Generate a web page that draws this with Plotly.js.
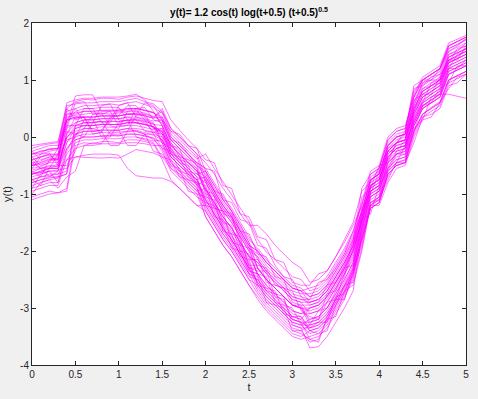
<!DOCTYPE html>
<html>
<head>
<meta charset="utf-8">
<script src="https://cdn.plot.ly/plotly-3.0.1.min.js"></script>
<style>
  html, body { margin: 0; padding: 0; background: #f0f0f0; }
  #myPlot { width: 478px; height: 399px; }
</style>
</head>
<body>
<div id="myPlot"></div>
<script>
// sample times, 0 .. 5 step 0.1
const tValues = [0,0.1,0.2,0.3,0.4,0.5,0.6,0.7,0.8,0.9,1,1.1,1.2,1.3,1.4,1.5,1.6,1.7,1.8,1.9,2,
  2.1,2.2,2.3,2.4,2.5,2.6,2.7,2.8,2.9,3,3.1,3.2,3.3,3.4,3.5,3.6,3.7,3.8,3.9,4,
  4.1,4.2,4.3,4.4,4.5,4.6,4.7,4.8,4.9,5];

// realisations
const run01 = [-0.35,-0.30,-0.25,-0.22, 0.30,0.50,0.55,0.55,0.57,0.58,0.56,0.60,0.62,0.57,0.52, 0.42,0.05,-0.10,-0.25,-0.38, -0.30,-0.55,-0.78,-1.00,-1.25,-1.48, -1.80,-2.02,-2.15,-2.30,-2.45,-2.50, -2.70,-2.65,-2.50,-2.25,-2.00,-1.70, -1.30,-0.75,-0.65,-0.15,0.00,0.05, 0.62,0.95,1.05,1.15,1.55,1.62,1.70];
const run02 = [-1.05,-1.00,-0.95,-0.98, -0.95,-0.15,-0.10,-0.12,-0.08,-0.08,-0.10,-0.05,-0.05,-0.08,-0.12, -0.40,-0.75,-0.90,-1.05,-1.20, -1.30,-1.55,-1.80,-2.00,-2.25,-2.50, -2.75,-2.95,-3.10,-3.25,-3.40,-3.45, -3.55,-3.50,-3.35,-3.10,-2.85,-2.40, -1.80,-1.25,-1.15,-0.65,-0.50,-0.45, 0.05,0.35,0.45,0.55,0.95,1.02,1.10];
const run03 = [-0.62,-0.55,-0.52,-0.48, -0.02,0.20,0.25,0.26,0.27,0.28,0.27,0.30,0.32,0.28,0.22, 0.20,-0.15,-0.30,-0.45,-0.60, -0.92,-1.15,-1.40,-1.60,-1.85,-2.10, -2.40,-2.60,-2.75,-2.90,-3.05,-3.10, -3.00,-2.95,-2.80,-2.55,-2.30,-2.00, -1.50,-0.95,-0.85,-0.35,-0.20,-0.15, 0.40,0.70,0.80,0.90,1.30,1.38,1.45];
const run04 = [-0.20,-0.15,-0.12,-0.10, 0.50,0.62,0.66,0.65,0.68,0.68,0.66,0.70,0.72,0.68,0.64, 0.62,0.30,0.12,-0.05,-0.20, -0.60,-0.85,-1.10,-1.30,-1.55,-1.85, -2.30,-2.50,-2.65,-2.80,-2.95,-3.00, -3.30,-3.25,-3.10,-2.85,-2.60,-2.30, -1.60,-1.05,-0.95,-0.45,-0.30,-0.20, 0.35,0.62,0.75,0.85,1.25,1.32,1.40];
const run05 = [-0.75,-0.70,-0.68,-0.65, -0.40,-0.35,-0.32,-0.30,-0.30,-0.30,-0.32,-0.55,-0.68,-0.70,-0.72, -0.72,-0.78,-0.90,-1.05,-1.20, -1.20,-1.45,-1.70,-1.90,-2.15,-2.40, -2.50,-2.70,-2.85,-3.00,-3.15,-3.20, -3.40,-3.35,-3.20,-2.95,-2.70,-2.40, -1.70,-1.15,-1.05,-0.55,-0.40,-0.35, 0.20,0.50,0.60,0.70,1.10,1.18,1.25];
const run06 = [-0.65,-0.62,-0.60,-0.58, -0.55,-0.35,-0.36,-0.37,-0.37,-0.36,-0.37,-0.30,-0.22,-0.25,-0.28, -0.35,-0.55,-0.65,-0.80,-0.95, -1.10,-1.35,-1.60,-1.80,-2.05,-2.30, -2.55,-2.75,-2.90,-3.05,-3.20,-3.25, -3.35,-3.30,-3.15,-2.90,-2.62,-2.35, -1.75,-1.20,-1.10,-0.60,-0.45,-0.40, 0.10,0.40,0.52,0.62,1.00,1.08,1.15];
const run07 = [-0.45,-0.42,-0.35,-0.32, 0.15,0.25,0.30,0.30,0.32,0.33,0.32,0.35,0.30,0.25,0.10, -0.05,-0.35,-0.50,-0.65,-0.85, -1.30,-1.55,-1.80,-2.00,-2.25,-2.50, -2.60,-2.80,-2.95,-3.10,-3.25,-3.30, -3.20,-3.15,-3.00,-2.75,-2.50,-2.20, -1.40,-0.85,-0.75,-0.25,-0.10,-0.05, 0.50,0.80,0.90,1.00,1.40,1.48,1.55];
const run08 = [-0.30,-0.25,-0.22,-0.20, 0.20,0.72,0.74,0.74,0.45,0.45,0.44,0.48,0.50,0.47,0.42, 0.35,0.00,-0.15,-0.30,-0.45, -0.55,-0.80,-1.05,-1.25,-1.50,-1.75, -2.00,-2.20,-2.35,-2.50,-2.65,-2.70, -2.80,-2.75,-2.60,-2.35,-2.10,-1.80, -1.30,-0.75,-0.65,-0.15,0.00,0.05, 0.80,1.00,1.10,1.20,1.55,1.62,1.72];
const run09 = [-0.85,-0.80,-0.75,-0.72, -0.20,0.00,0.05,0.05,0.08,0.07,0.08,0.10,0.12,0.08,0.03, -0.05,-0.35,-0.50,-0.62,-0.75, -0.70,-0.95,-1.20,-1.40,-1.65,-1.90, -2.00,-2.20,-2.35,-2.50,-2.65,-2.70, -2.90,-2.85,-2.70,-2.45,-2.20,-1.90, -1.50,-0.95,-0.85,-0.35,-0.20,-0.15, 0.30,0.60,0.70,0.80,1.20,1.28,1.35];
const run10 = [-0.50,-0.45,-0.40,-0.38, 0.35,0.38,0.40,0.42,0.42,0.40,0.42,0.45,0.45,0.42,0.36, 0.28,-0.10,-0.25,-0.40,-0.55, -1.00,-1.25,-1.50,-1.72,-1.95,-2.20, -2.60,-2.80,-2.95,-3.10,-3.25,-3.30, -3.45,-3.40,-3.25,-3.00,-2.75,-2.45, -1.65,-1.10,-1.00,-0.50,-0.35,-0.30, 0.40,0.70,0.80,0.90,1.30,1.38,1.45];
const run11 = [-1.10,-1.05,-1.00,-0.98, -0.90,-0.05,0.00,0.00,0.02,0.03,0.02,0.05,0.05,0.02,-0.02, -0.10,-0.45,-0.60,-0.75,-0.90, -1.40,-1.65,-1.90,-2.10,-2.35,-2.60, -2.80,-3.00,-3.15,-3.30,-3.45,-3.50, -3.40,-3.35,-3.20,-2.95,-2.70,-2.40, -1.75,-1.20,-1.10,-0.60,-0.45,-0.40, 0.10,0.40,0.50,0.60,1.00,1.08,1.15];
const run12 = [-0.70,-0.65,-0.60,-0.60, -0.10,0.15,0.20,0.20,0.22,0.22,0.22,0.25,0.25,0.22,0.18, 0.00,-0.35,-0.50,-0.65,-0.80, -1.10,-1.35,-1.60,-1.80,-2.05,-2.30, -2.65,-2.85,-3.00,-3.15,-3.30,-3.35, -3.70,-3.68,-3.50,-3.25,-3.00,-2.70, -1.70,-1.15,-1.05,-0.55,-0.40,-0.35, 0.25,0.55,0.65,0.75,1.15,1.22,1.30];
const run13 = [-0.30,-0.28,-0.20,-0.20, 0.40,0.42,0.45,0.45,0.46,0.47,0.46,0.50,0.50,0.47,0.43, 0.30,-0.05,-0.20,-0.35,-0.50, -0.65,-0.90,-1.15,-1.35,-1.60,-1.85, -2.15,-2.35,-2.50,-2.65,-2.80,-2.85, -2.85,-2.80,-2.65,-2.40,-2.15,-1.85, -1.35,-0.80,-0.70,-0.20,-0.05,0.00, 0.60,0.90,1.00,1.10,1.50,1.58,1.65];
const run14 = [-0.58,-0.55,-0.50,-0.52, 0.00,0.10,0.15,0.15,0.18,0.17,0.18,0.20,0.20,0.17,0.13, 0.10,-0.25,-0.40,-0.55,-0.70, -0.80,-1.05,-1.30,-1.50,-1.75,-2.00, -2.10,-2.30,-2.45,-2.60,-2.75,-2.80, -2.95,-2.90,-2.75,-2.50,-2.25,-1.95, -1.45,-0.90,-0.80,-0.30,-0.15,-0.10, 0.25,0.55,0.65,0.75,0.75,0.72,0.68];
const run15 = [-0.80,-0.75,-0.72,-0.70, -0.65,0.05,0.10,0.10,0.12,0.12,0.12,0.15,0.15,0.12,0.08, 0.15,-0.20,-0.35,-0.50,-0.65, -0.60,-0.85,-1.10,-1.30,-1.55,-1.80, -1.95,-2.15,-2.30,-2.45,-2.60,-2.65, -2.80,-2.75,-2.60,-2.35,-2.10,-1.80, -1.40,-0.85,-0.75,-0.25,-0.10,-0.05, 0.50,0.80,0.90,1.00,1.40,1.48,1.55];
const run16 = [-0.40,-0.35,-0.30,-0.30, 0.25,0.45,0.50,0.50,0.52,0.52,0.52,0.30,0.25,0.22,0.18, 0.10,-0.25,-0.40,-0.55,-0.70, -1.20,-1.45,-1.70,-1.90,-2.15,-2.40, -2.70,-2.90,-3.05,-3.20,-3.35,-3.40, -3.30,-3.25,-3.10,-2.85,-2.60,-2.30, -1.80,-1.25,-1.15,-0.65,-0.50,-0.45, 0.20,0.50,0.60,0.70,1.10,1.18,1.25];
const run17 = [-0.65,-0.60,-0.55,-0.55, 0.05,0.25,0.30,0.30,0.32,0.32,0.32,0.35,0.35,0.32,0.28, 0.30,-0.05,-0.20,-0.35,-0.50, -0.90,-1.15,-1.40,-1.60,-1.85,-2.10, -2.20,-2.40,-2.55,-2.70,-2.85,-2.90, -3.10,-3.05,-2.90,-2.65,-2.40,-1.80, -0.90,-0.65,-0.55,-0.05,0.10,0.15, 0.70,1.00,1.10,1.20,1.60,1.68,1.75];
const run18 = [-0.55,-0.52,-0.45,-0.45, 0.00,0.15,0.20,0.20,0.22,0.22,0.22,0.25,0.25,0.22,0.18, -0.10,-0.45,-0.60,-0.75,-0.90, -1.25,-1.50,-1.75,-1.95,-2.20,-2.45, -2.50,-2.70,-2.85,-3.00,-3.15,-3.20, -3.00,-2.95,-2.80,-2.55,-2.30,-2.00, -1.50,-0.95,-0.85,-0.35,-0.20,-0.15, 0.30,0.60,0.70,0.80,1.20,1.28,1.35];
const run19 = [-0.90,-0.85,-0.80,-0.80, -0.30,-0.10,-0.05,-0.05,-0.03,-0.03,-0.03,0.00,0.00,-0.03,-0.07, -0.05,-0.40,-0.55,-0.70,-0.85, -0.75,-1.00,-1.25,-1.45,-1.70,-1.95, -2.05,-2.25,-2.40,-2.55,-2.70,-2.75, -2.75,-2.70,-2.55,-2.30,-2.05,-1.75, -1.30,-0.75,-0.65,-0.15,0.00,0.05, 0.70,1.00,1.10,1.20,1.60,1.68,1.75];
const run20 = [-0.25,-0.20,-0.15,-0.15, 0.30,0.35,0.35,0.35,0.37,0.37,0.37,0.40,0.40,0.37,0.33, 0.35,0.00,-0.15,-0.30,-0.45, -0.75,-1.00,-1.25,-1.45,-1.70,-1.95, -2.45,-2.65,-2.80,-2.95,-3.10,-3.15, -3.35,-3.30,-3.15,-2.90,-2.65,-2.35, -1.60,-1.05,-0.95,-0.45,-0.30,-0.25, 0.20,0.50,0.60,0.70,1.10,1.18,1.25];
const run21 = [-0.75,-0.70,-0.65,-0.65, -0.60,0.20,0.20,0.20,0.22,0.22,0.22,0.25,0.25,0.22,0.18, 0.05,-0.30,-0.45,-0.60,-0.75, -1.10,-1.35,-1.60,-1.80,-2.05,-2.30, -2.30,-2.50,-2.65,-2.80,-2.95,-3.00, -3.00,-2.95,-2.80,-2.55,-2.30,-2.00, -1.45,-0.90,-0.80,-0.30,-0.15,-0.10, 0.45,0.75,0.85,0.95,1.35,1.42,1.50];
const run22 = [-0.15,-0.12,-0.10,-0.08, 0.55,0.58,0.60,0.60,0.62,0.62,0.62,0.65,0.68,0.62,0.58, 0.45,0.10,-0.05,-0.20,-0.35, -0.80,-1.05,-1.30,-1.50,-1.75,-2.00, -2.30,-2.50,-2.65,-2.80,-2.95,-3.00, -3.20,-3.15,-3.00,-2.75,-2.50,-2.20, -1.50,-0.95,-0.85,-0.35,-0.20,-0.15, 0.50,0.80,0.90,1.00,1.40,1.48,1.55];
const run23 = [-0.95,-0.90,-0.85,-0.85, -0.40,-0.20,-0.15,-0.15,-0.12,-0.12,-0.12,-0.10,-0.10,-0.12,-0.15, -0.15,-0.50,-0.65,-0.80,-0.95, -0.90,-1.15,-1.40,-1.60,-1.85,-2.10, -2.20,-2.40,-2.55,-2.70,-2.85,-2.90, -2.90,-2.85,-2.70,-2.45,-2.20,-1.90, -1.30,-0.75,-0.65,-0.15,0.00,0.05, 0.40,0.70,0.80,0.90,1.30,1.38,1.45];
const run24 = [-0.50,-0.45,-0.38,-0.40, 0.30,0.32,0.35,0.35,0.37,0.37,0.37,0.40,0.42,0.40,0.35, 0.45,0.15,0.00,-0.15,-0.30, -0.45,-0.65,-0.90,-1.10,-1.35,-1.55, -1.55,-1.70,-1.90,-2.05,-2.20,-2.30, -2.55,-2.50,-2.35,-2.10,-1.85,-1.55, -1.20,-0.65,-0.55,-0.05,0.10,0.15, 0.75,1.05,1.15,1.25,1.65,1.72,1.78];
const run25 = [-0.65,-0.62,-0.55,-0.55, -0.10,0.05,0.10,0.10,0.12,0.12,0.12,0.15,0.10,0.05,-0.05, -0.20,-0.55,-0.70,-0.85,-1.00, -1.40,-1.65,-1.90,-2.10,-2.35,-2.60, -2.85,-3.05,-3.20,-3.35,-3.50,-3.55, -3.50,-3.45,-3.30,-3.05,-2.80,-2.50, -1.80,-1.25,-1.15,-0.65,-0.50,-0.45, 0.10,0.40,0.50,0.60,1.00,1.08,1.15];
const run26 = [-0.50,-0.48,-0.42,-0.40, 0.40,0.40,0.45,0.45,0.47,0.47,0.47,0.50,0.50,0.47,0.43, 0.20,-0.15,-0.30,-0.45,-0.60, -0.70,-0.95,-1.20,-1.40,-1.65,-1.90, -2.30,-2.50,-2.65,-2.80,-2.95,-3.00, -3.05,-3.00,-2.85,-2.60,-2.35,-2.05, -1.40,-0.85,-0.75,-0.25,-0.10,-0.05, 0.55,0.85,0.95,1.05,1.45,1.52,1.60];
const run27 = [-0.80,-0.75,-0.70,-0.70, -0.65,0.20,0.25,0.25,0.27,0.27,0.27,0.30,0.30,0.27,0.23, 0.05,-0.30,-0.45,-0.60,-0.75, -1.05,-1.30,-1.55,-1.75,-2.00,-2.25, -2.55,-2.75,-2.90,-3.05,-3.20,-3.25, -3.25,-3.20,-3.05,-2.80,-2.55,-2.25, -1.55,-1.00,-0.90,-0.40,-0.25,-0.20, 0.35,0.65,0.75,0.85,1.25,1.32,1.40];
const run28 = [-0.40,-0.35,-0.32,-0.30, 0.30,0.35,0.35,0.35,0.37,0.37,0.37,0.40,0.40,0.37,0.33, 0.50,0.15,0.00,-0.15,-0.30, -0.70,-0.95,-1.20,-1.40,-1.65,-1.90, -2.00,-2.20,-2.35,-2.50,-2.65,-2.70, -2.65,-2.60,-2.45,-2.20,-1.95,-1.65, -1.15,-0.60,-0.50,0.00,0.15,0.20, 0.70,1.00,1.10,1.20,1.60,1.68,1.75];
const run29 = [-0.65,-0.60,-0.55,-0.55, -0.20,-0.05,0.00,0.00,0.02,0.02,0.02,0.05,0.05,0.02,-0.02, -0.25,-0.60,-0.75,-0.90,-1.05, -1.15,-1.40,-1.65,-1.85,-2.10,-2.35, -2.40,-2.60,-2.75,-2.90,-3.05,-3.10, -3.10,-3.05,-2.90,-2.65,-2.40,-2.10, -1.60,-1.05,-0.95,-0.45,-0.30,-0.25, 0.25,0.55,0.65,0.75,1.15,1.22,1.30];
const run30 = [-0.30,-0.25,-0.22,-0.20, 0.60,0.65,0.68,0.68,0.70,0.70,0.70,0.72,0.75,0.65,0.45, 0.20,-0.15,-0.30,-0.45,-0.60, -0.95,-1.20,-1.45,-1.65,-1.90,-2.15, -2.15,-2.35,-2.50,-2.65,-2.80,-2.85, -2.90,-2.85,-2.70,-2.45,-2.20,-1.90, -1.40,-0.85,-0.75,-0.25,-0.10,-0.05, 0.45,0.75,0.85,0.95,1.35,1.42,1.50];
const run31 = [-0.45,-0.55,-0.70,-0.60, 0.10,0.05,0.15,0.40,0.42,0.20,0.15,0.45,0.48,0.30,0.25, -0.10,-0.20,-0.45,-0.50,-0.85, -1.00,-1.05,-1.50,-1.55,-2.00,-2.05, -2.40,-2.45,-2.90,-2.95,-3.00,-3.30, -3.30,-3.05,-3.00,-2.70,-2.30,-2.25, -1.60,-1.00,-0.90,-0.55,-0.25,-0.20, 0.30,0.60,0.95,1.00,1.20,1.45,1.50];
const run32 = [-0.35,-0.50,-0.45,-0.20, 0.50,0.30,0.35,0.10,0.12,0.30,0.55,0.60,0.35,0.30,0.05, 0.00,-0.15,-0.20,-0.60,-0.65, -0.75,-1.25,-1.30,-1.35,-1.90,-1.95, -2.10,-2.55,-2.60,-2.65,-2.70,-3.05, -3.15,-3.20,-2.75,-2.70,-2.45,-1.95, -1.25,-1.00,-0.60,-0.25,-0.25,-0.05, 0.65,0.75,0.75,1.05,1.35,1.35,1.60];
const run33 = [-0.90,-0.65,-0.60,-0.80, -0.25,0.05,0.00,0.25,0.28,0.05,0.05,0.10,0.38,0.40,0.15, 0.10,-0.30,-0.35,-0.70,-0.80, -0.85,-1.40,-1.45,-1.70,-1.75,-2.30, -2.35,-2.35,-2.80,-2.85,-3.20,-3.25, -3.55,-3.60,-3.15,-2.85,-2.85,-2.35, -1.90,-1.15,-1.10,-0.75,-0.45,-0.15, 0.15,0.30,0.70,0.75,1.20,1.20,1.35];
const run34 = [-0.55,-0.35,-0.30,-0.45, 0.45,0.50,0.25,0.25,0.55,0.58,0.30,0.28,0.30,0.10,0.08, 0.05,-0.10,-0.35,-0.40,-0.45, -0.55,-0.60,-1.10,-1.15,-1.45,-1.50, -1.90,-1.95,-2.25,-2.45,-2.50,-2.80, -2.85,-2.55,-2.50,-2.30,-2.05,-1.65, -1.20,-0.70,-0.60,-0.20,-0.10,0.10, 0.85,0.90,1.05,1.10,1.30,1.55,1.60];
const run35 = [-0.75,-0.85,-0.55,-0.50, -0.50,-0.25,0.15,0.15,0.10,-0.15,-0.15,0.10,0.10,0.05,-0.25, -0.30,-0.50,-0.55,-0.95,-1.00, -1.05,-1.10,-1.65,-1.70,-2.10,-2.15, -2.60,-2.65,-2.70,-3.10,-3.15,-3.15, -3.40,-3.45,-3.40,-2.95,-2.60,-2.55, -1.95,-1.20,-1.20,-0.80,-0.55,-0.50, 0.00,0.30,0.35,0.60,0.85,1.05,1.10];
const run36 = [-0.25,-0.40,-0.35,-0.40, 0.15,0.60,0.62,0.40,0.40,0.45,0.20,0.20,0.50,0.52,0.30, 0.25,-0.05,-0.10,-0.30,-0.50, -0.60,-0.95,-1.00,-1.30,-1.65,-1.70, -2.05,-2.10,-2.45,-2.50,-2.90,-2.95, -2.95,-2.90,-2.60,-2.55,-2.25,-1.90, -1.05,-0.90,-0.50,-0.45,-0.10,0.05, 0.55,0.95,1.00,1.00,1.45,1.50,1.65];
const run37 = [-0.60,-0.70,-0.40,-0.35, -0.05,0.00,0.30,0.32,0.00,0.00,0.25,0.30,0.00,-0.05,-0.10, -0.35,-0.40,-0.70,-0.75,-0.80, -1.20,-1.25,-1.30,-1.85,-1.90,-2.35, -2.40,-2.70,-2.75,-2.80,-3.30,-3.35, -3.35,-3.25,-3.25,-2.80,-2.75,-2.30, -1.45,-1.35,-0.85,-0.60,-0.30,-0.30, 0.10,0.55,0.60,0.85,0.95,1.25,1.25];
const run38 = [-0.40,-0.55,-0.55,-0.30, 0.20,0.20,0.50,0.50,0.25,0.25,0.50,0.40,0.40,0.60,0.55, 0.30,0.10,0.05,-0.15,-0.20, -0.40,-0.45,-0.85,-0.90,-1.35,-1.40, -1.75,-1.80,-2.15,-2.20,-2.55,-2.60, -2.60,-2.40,-2.35,-2.10,-1.80,-1.50, -0.95,-0.80,-0.55,-0.10,0.05,0.10, 0.90,1.00,1.00,1.20,1.50,1.60,1.72];
const run39 = [-1.00,-0.80,-0.75,-0.90, -0.70,-0.60,-0.15,-0.10,-0.12,0.10,0.12,-0.15,-0.15,0.05,0.05, -0.20,-0.25,-0.60,-0.65,-0.75, -1.15,-1.20,-1.55,-1.95,-2.00,-2.40, -2.45,-2.90,-2.95,-3.00,-3.40,-3.40, -3.60,-3.55,-3.20,-3.15,-2.70,-2.60, -2.00,-1.20,-1.05,-0.70,-0.45,-0.45, -0.10,0.35,0.40,0.50,0.90,0.95,1.10];
const run40 = [-0.50,-0.30,-0.28,-0.50, 0.05,0.35,0.35,0.05,0.08,0.35,0.38,0.55,0.55,0.35,0.15, 0.15,-0.20,-0.40,-0.45,-0.55, -0.95,-1.00,-1.35,-1.40,-1.80,-2.25, -2.25,-2.30,-2.60,-2.65,-2.95,-2.95, -3.25,-3.20,-2.90,-2.85,-2.40,-2.15, -1.35,-0.90,-0.70,-0.40,-0.10,-0.05, 0.45,0.85,0.90,0.95,1.35,1.40,1.55];

const runs = [run01,run02,run03,run04,run05,run06,run07,run08,run09,run10,
  run11,run12,run13,run14,run15,run16,run17,run18,run19,run20,
  run21,run22,run23,run24,run25,run26,run27,run28,run29,run30,
  run31,run32,run33,run34,run35,run36,run37,run38,run39,run40];

const xTicks = [0,0.5,1,1.5,2,2.5,3,3.5,4,4.5,5];
const xTickText = ["0","0.5","1","1.5","2","2.5","3","3.5","4","4.5","5"];
const yTicks = [-4,-3,-2,-1,0,1,2];
const yTickText = ["-4","-3","-2","-1","0","1","2"];

const data = runs.map(y => ({
  x: tValues,
  y: y,
  mode: "lines",
  line: {color: "rgba(255,0,255,0.55)", width: 1},
  hoverinfo: "skip",
  showlegend: false
}));

const axisStyle = {
  showline: true,
  linecolor: "#262626",
  linewidth: 1,
  mirror: "ticks",
  ticks: "inside",
  ticklen: 4,
  tickcolor: "#262626",
  showgrid: false,
  zeroline: false,
  tickfont: {family: "Liberation Sans, Arial, sans-serif", size: 10, color: "#262626"}
};

const layout = {
  width: 478,
  height: 399,
  margin: {l: 32, r: 12, t: 23, b: 34},
  paper_bgcolor: "#f0f0f0",
  plot_bgcolor: "#ffffff",
  font: {family: "Liberation Sans, Arial, sans-serif", color: "#262626"},
  title: {
    text: "<b>y(t)= 1.2 cos(t) log(t+0.5) (t+0.5)<sup>0.5</sup></b>",
    font: {size: 10, color: "#000000"},
    x: 0.5, xref: "paper", y: 0.978, yref: "container", yanchor: "top"
  },
  xaxis: Object.assign({}, axisStyle, {
    range: [0, 5], tickvals: xTicks, ticktext: xTickText,
    title: {text: "t", font: {size: 11, color: "#262626"}, standoff: 4}
  }),
  yaxis: Object.assign({}, axisStyle, {
    range: [-4, 2], tickvals: yTicks, ticktext: yTickText,
    title: {text: "y(t)", font: {size: 11, color: "#262626"}, standoff: 6}
  })
};

Plotly.newPlot("myPlot", data, layout, {displayModeBar: false, staticPlot: true});
</script>
</body>
</html>
